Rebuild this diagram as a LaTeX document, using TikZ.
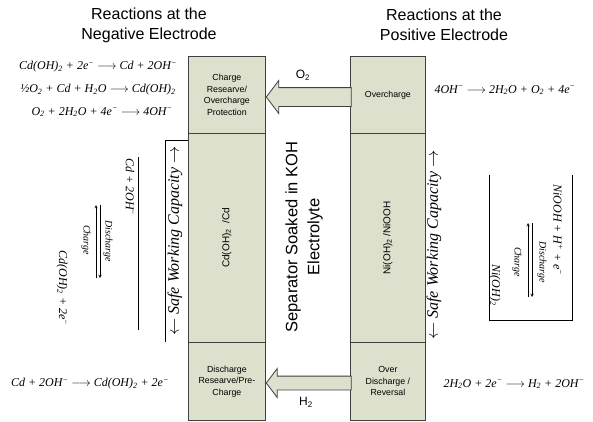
\documentclass[tikz,border=0pt]{standalone}
\usepackage{fontspec}
\setmainfont{Liberation Sans}
\newfontfamily\timesfont{Liberation Serif}
\usetikzlibrary{shapes.arrows}

\definecolor{cellgreen}{RGB}{221,224,204}
\newcommand{\chsub}[1]{\textsubscript{#1}}
\newcommand{\chsup}[1]{\textsuperscript{#1}}

\begin{document}
\begin{tikzpicture}[
    x=1pt, y=-1pt,
    >=stealth,
    cell/.style={draw=black!75, line width=0.8pt, fill=cellgreen, inner sep=1pt,
      anchor=north west, align=center, font=\fontsize{8.8}{11.5}\selectfont},
    celllabel/.style={rotate=90, font=\fontsize{10}{12}\selectfont},
    title/.style={align=center, font=\fontsize{16}{20}\selectfont},
    gasarrow/.style={single arrow, shape border rotate=180, draw=black!75,
      line width=0.8pt, fill=cellgreen, inner xsep=0pt, single arrow tip angle=106},
    gaslabel/.style={font=\fontsize{12}{14}\selectfont},
    eq/.style={inner sep=1pt, font=\timesfont\itshape\fontsize{12}{14}\selectfont},
    roteq/.style={eq, rotate=-90},
    rxnlabel/.style={inner sep=1pt, rotate=-90, font=\timesfont\itshape\fontsize{10}{11}\selectfont},
    capacity/.style={rotate=90, inner sep=1pt, font=\timesfont\itshape\fontsize{16}{18}\selectfont}
  ]

    \useasboundingbox (0,0) rectangle (593,421);

    % --- Parameters ---
    \def\colW{77}   % width of the negative column
    \def\colWp{75}  % width of the positive column

    % --- Titles ---
    \node[title] (negTitle) at (149,25) {Reactions at the\\Negative Electrode};
    \node[title] (posTitle) at (444,25) {Reactions at the\\Positive Electrode};

    % --- Negative electrode (Cd) ---
    \node[cell, minimum width=\colW pt, minimum height=77pt] (negTop) at (188,56)
      {Charge\\Researve/\\Overcharge\\Protection};
    \node[cell, minimum width=\colW pt, minimum height=209pt] (negMid) at (188,133) {};
    \node[cell, minimum width=\colW pt, minimum height=78pt] (negBot) at (188,342)
      {Discharge\\Researve/Pre-\\Charge};
    \node[celllabel] (negMidText) at (negMid.center) {Cd(OH)\chsub{2}\ \ /Cd};

    % --- Positive electrode (Ni) ---
    \node[cell, minimum width=\colWp pt, minimum height=77pt] (posTop) at (350,56) {Overcharge};
    \node[cell, minimum width=\colWp pt, minimum height=209pt] (posMid) at (350,133) {};
    \node[cell, minimum width=\colWp pt, minimum height=78pt] (posBot) at (350,342)
      {Over\\Discharge /\\Reversal};
    \node[celllabel] (posMidText) at (posMid.center) {Ni(OH)\chsub{2} /NiOOH};

    % --- Separator ---
    \node[rotate=90, align=center, font=\fontsize{16.5}{22}\selectfont] (sep) at (304,237)
      {Separator Soaked in KOH\\Electrolyte};

    % --- Gas transport ---
    \node[gasarrow, anchor=tip, minimum height=85pt, inner ysep=9pt,
      single arrow head extend=7pt] (oxArrow) at (negTop.east |- 0,97) {};
    \node[gaslabel] (oxLabel) at (303,75) {O\chsub{2}};
    \node[gasarrow, anchor=tip, minimum height=85pt, inner ysep=6.5pt,
      single arrow head extend=7.5pt] (hyArrow) at (negBot.east |- 0,383) {};
    \node[gaslabel] (hyLabel) at (306,402) {H\chsub{2}};

    % --- Safe working capacity ---
    \node[capacity] (negCap) at (175,241) {$\leftarrow$ Safe Working Capacity $\rightarrow$};
    \draw[line width=0.7pt] (negMid.west |- 0,140) -- (165,140) -- (165,342);
    \node[capacity] (posCap) at (434,245) {$\leftarrow$ Safe Working Capacity $\rightarrow$};

    % --- Reactions, negative side ---
    \node[eq] (eqNegA) at (98,67) {Cd(OH)\chsub{2} + 2e\chsup{−} $\longrightarrow$ Cd + 2OH\chsup{−}};
    \node[eq] (eqNegB) at (98,90) {½O\chsub{2} + Cd + H\chsub{2}O $\longrightarrow$ Cd(OH)\chsub{2}};
    \node[eq] (eqNegC) at (102,112) {O\chsub{2} + 2H\chsub{2}O + 4e\chsup{−} $\longrightarrow$ 4OH\chsup{−}};
    \node[eq] (eqNegD) at (90,384) {Cd + 2OH\chsup{−} $\longrightarrow$ Cd(OH)\chsub{2} + 2e\chsup{−}};

    \node[roteq] (negRxnA) at (130,187) {Cd + 2OH\chsup{−}};
    \node[roteq] (negRxnB) at (62,288) {Cd(OH)\chsub{2} + 2e\chsup{−}};
    \node[rxnlabel] (negDis) at (108,241) {Discharge};
    \node[rxnlabel] (negChg) at (86,240) {Charge};
    \coordinate (negChgA) at (96,278);  \coordinate (negChgB) at (96,205);
    \coordinate (negDisA) at (100,205); \coordinate (negDisB) at (100,278);
    \draw[->, line width=0.5pt] (negChgA) -- (negChgB);
    \draw[->, line width=0.5pt] (negDisA) -- (negDisB);
    \draw[line width=0.7pt] (138,157) -- (138,330);

    % --- Reactions, positive side ---
    \node[eq] (eqPosA) at (505,90) {4OH\chsup{−} $\longrightarrow$ 2H\chsub{2}O + O\chsub{2} + 4e\chsup{−}};
    \node[eq] (eqPosB) at (514,384) {2H\chsub{2}O + 2e\chsup{−} $\longrightarrow$ H\chsub{2} + 2OH\chsup{−}};

    \node[roteq] (posRxnA) at (558,230) {NiOOH + H\chsup{+} + e\chsup{−}};
    \node[roteq] (posRxnB) at (495,285) {Ni(OH)\chsub{2}};
    \node[rxnlabel] (posDis) at (542,262) {Discharge};
    \node[rxnlabel] (posChg) at (517,262) {Charge};
    \coordinate (posChgA) at (528,297); \coordinate (posChgB) at (528,223);
    \coordinate (posDisA) at (532,223); \coordinate (posDisB) at (532,297);
    \draw[->, line width=0.5pt] (posChgA) -- (posChgB);
    \draw[->, line width=0.5pt] (posDisA) -- (posDisB);
    \draw[line width=0.7pt] (489,175) -- (489,320) -- (572,320) -- (572,175);

  \end{tikzpicture}
\end{document}
